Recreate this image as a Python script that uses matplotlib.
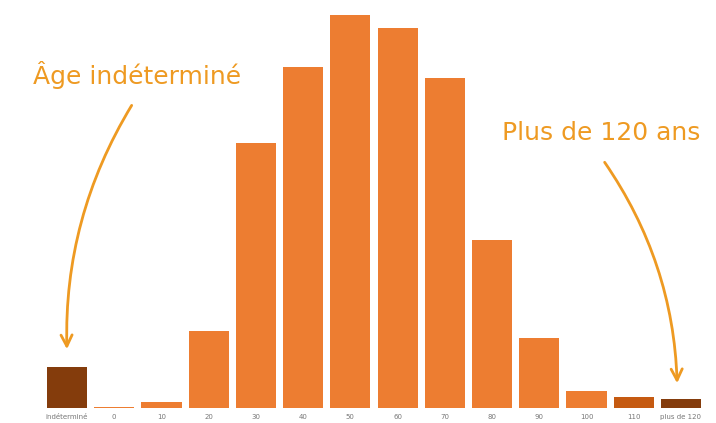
import matplotlib
matplotlib.use("Agg")
import matplotlib.pyplot as plt

# age groups and bar heights
categories = ["indéterminé", "0", "10", "20", "30", "40", "50", "60",
              "70", "80", "90", "100", "110", "plus de 120"]
values = [41, 1.5, 6, 77, 265, 341, 393, 380, 330, 168, 70, 17, 11, 9]
colors = ["#843C0C"] + ["#ED7D31"] * 11 + ["#C55A11", "#843C0C"]

note_col = "#EE9A22"

fig = plt.figure(figsize=(7.16, 4.23), dpi=100)
ax = fig.add_axes([0, 15 / 423, 1, 408 / 423])

x = list(range(len(categories)))
ax.bar(x, values, width=0.85, color=colors)

ax.set_xlim(-67 / 47.23, (716 - 67) / 47.23)
ax.set_ylim(0, 408)
ax.set_xticks(x)
ax.set_xticklabels(categories, fontsize=5, color="#777777")
ax.tick_params(axis="x", length=0, pad=4)
ax.set_yticks([])
for s in ax.spines.values():
    s.set_visible(False)

# annotations
ax.text(1.48, 333, "Âge indéterminé", fontsize=18, color=note_col,
        ha="center", va="center")
ax.annotate("", xy=(0, 56), xytext=(1.4, 305),
            arrowprops=dict(arrowstyle="->,head_length=0.8,head_width=0.4",
                            color=note_col, lw=2,
                            connectionstyle="arc3,rad=0.15"))

ax.text(11.3, 275, "Plus de 120 ans", fontsize=18, color=note_col,
        ha="center", va="center")
ax.annotate("", xy=(12.92, 22), xytext=(11.35, 248),
            arrowprops=dict(arrowstyle="->,head_length=0.8,head_width=0.4",
                            color=note_col, lw=2,
                            connectionstyle="arc3,rad=-0.15"))

fig.savefig("out.png", dpi=100)
